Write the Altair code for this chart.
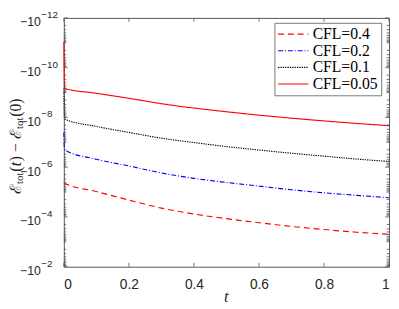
import altair as alt
import pandas as pd

# ---------------- data ----------------
t_vals = [0.0, 0.002, 0.1, 0.2, 0.3, 0.4, 0.5, 0.6, 0.7, 0.8, 0.9, 1.0]
cfl_labels = ["CFL=0.4", "CFL=0.2", "CFL=0.1", "CFL=0.05"]
# magnitudes of E_tot(t) - E_tot(0) (the quantity itself is negative)
err_cfl_0p4 = [4.2e-6, 4.4e-6, 9.5e-6, 2.1e-5, 4.4e-5, 7.6e-5, 1.17e-4, 1.7e-4, 2.4e-4, 3.2e-4, 4.1e-4, 5.0e-4]
err_cfl_0p2 = [4.0e-8, 2.0e-7, 4.8e-7, 8.9e-7, 1.7e-6, 2.8e-6, 4.1e-6, 5.75e-6, 8.1e-6, 1.07e-5, 1.35e-5, 1.7e-5]
err_cfl_0p1 = [6.9e-10, 1.15e-8, 2.3e-8, 4.0e-8, 6.8e-8, 1.02e-7, 1.48e-7, 2.04e-7, 2.75e-7, 3.6e-7, 4.7e-7, 5.9e-7]
err_cfl_0p05 = [9.3e-12, 6.8e-10, 1.07e-9, 1.7e-9, 2.8e-9, 4.2e-9, 5.9e-9, 8.1e-9, 1.07e-8, 1.38e-8, 1.74e-8, 2.14e-8]

x_ticks = [0, 0.2, 0.4, 0.6, 0.8, 1]
y_major = [1e-12, 1e-10, 1e-8, 1e-6, 1e-4, 1e-2]
y_major_sup = ["\u221212", "\u221210", "\u22128", "\u22126", "\u22124", "\u22122"]
y_minor = [k * 10.0 ** n for n in range(-12, -2) for k in range(1, 10) if not (k == 1 and n % 2 == 0)]

series = [err_cfl_0p4, err_cfl_0p2, err_cfl_0p1, err_cfl_0p05]
rows = []
for lab, vals in zip(cfl_labels, series):
    for t, v in zip(t_vals, vals):
        rows.append({"t": t, "val": v, "cfl": lab})
df = pd.DataFrame(rows)

# ---------------- layout ----------------
W, H = 332, 254
PAD = {"left": 57, "top": 7, "right": 2, "bottom": 38}
AX = "#262626"
FRAME = "#555555"

xscale = alt.Scale(domain=[0, 1], nice=False, zero=False)
yscale = alt.Scale(type="log", domain=[1e-12, 1e-2], reverse=True, nice=False)

xaxis = alt.Axis(values=x_ticks, format=".1~f", ticks=False, domain=False, grid=False,
                 labelFont="Liberation Sans", labelFontSize=14, labelColor=AX,
                 labelPadding=11, title=None)
yaxis = alt.Axis(labels=False, ticks=False, domain=False, grid=False, title=None)

def X():
    return alt.X("t:Q", scale=xscale, axis=xaxis)

def Y():
    return alt.Y("val:Q", scale=yscale, axis=yaxis)

colors = ["#ff0000", "#0000ff", "#000000", "#ff0000"]
dashes = [[6, 4], [5, 2, 1, 2], [1.3, 1.1], [1, 0]]
widths = [1.15, 1.15, 1.6, 1.15]

lines = alt.Chart(df).mark_line(interpolate="monotone").encode(
    x=X(), y=Y(),
    color=alt.Color("cfl:N", scale=alt.Scale(domain=cfl_labels, range=colors), legend=alt.Legend(title=None)),
    strokeDash=alt.StrokeDash("cfl:N", scale=alt.Scale(domain=cfl_labels, range=dashes), legend=alt.Legend(title=None)),
    strokeWidth=alt.StrokeWidth("cfl:N", scale=alt.Scale(domain=cfl_labels, range=widths), legend=None),
)

# tick marks (inward, MATLAB style)
ymaj_df = pd.DataFrame({"val": y_major, "sup": y_major_sup})
ymin_df = pd.DataFrame({"val": y_minor})
xt_df = pd.DataFrame({"t": x_ticks})

def yrule(d, x1, x2):
    return alt.Chart(d).mark_rule(color=FRAME, strokeWidth=0.8).encode(
        y=Y(), x=alt.value(x1), x2=alt.value(x2))

def xrule(y1, y2):
    return alt.Chart(xt_df).mark_rule(color=FRAME, strokeWidth=0.8).encode(
        x=X(), y=alt.value(y1), y2=alt.value(y2))

ticks = [
    yrule(ymaj_df, 0, 4), yrule(ymaj_df, W, W - 4),
    yrule(ymin_df, 0, 2.5), yrule(ymin_df, W, W - 2.5),
    xrule(H, H - 4), xrule(0, 4),
]

# y tick labels:  -10^{-n}
ylab_main = alt.Chart(ymaj_df).mark_text(
    align="right", baseline="middle", dy=4.5, font="Liberation Sans", fontSize=12.5, color=AX
).encode(y=Y(), x=alt.value(-23.5), text=alt.value("\u221210"))
ylab_sup = alt.Chart(ymaj_df).mark_text(
    align="left", baseline="middle", dy=-3, font="Liberation Sans", fontSize=10, color=AX
).encode(y=Y(), x=alt.value(-23), text="sup:N")

one = pd.DataFrame({"a": [0]})

# x axis title
xtitle = alt.Chart(one).mark_text(
    align="center", baseline="alphabetic", font="Liberation Serif", fontSize=17,
    fontStyle="italic", color=AX
).encode(x=alt.value(W / 2), y=alt.value(H + 36), text=alt.value("t"))

# y axis title: E_tot(t) - E_tot(0), rotated
pieces = [
    ("\u2130", 16, "normal", 0, 10.5),
    ("tot", 11, "normal", 2.5, 12.5),
    ("(", 16, "normal", 0, 5.8),
    ("t", 16, "italic", 0, 5.0),
    (")", 16, "normal", 0, 9.5),
    ("\u2212", 16, "normal", 0, 13.0),
    ("\u2130", 16, "normal", 0, 10.5),
    ("tot", 11, "normal", 2.5, 12.5),
    ("(0)", 16, "normal", 0, 19.0),
]
total = sum(p[4] for p in pieces)
title_layers = []
off = -total / 2
for txt, fs, style, dy, w in pieces:
    title_layers.append(
        alt.Chart(one).mark_text(
            align="left", baseline="alphabetic", angle=270, dx=off, dy=dy,
            font="Liberation Serif", fontSize=fs, fontStyle=style, color=AX
        ).encode(x=alt.value(-44), y=alt.value(H / 2 + 4), text=alt.value(txt))
    )
    off += w

chart = alt.layer(lines, *ticks, ylab_main, ylab_sup, xtitle, *title_layers).properties(
    width=W, height=H,
    autosize=alt.AutoSizeParams(type="none"),
    padding=PAD,
).configure_view(
    stroke=FRAME, strokeWidth=1
).configure_legend(
    orient="none", legendX=215, legendY=5,
    fillColor="white", strokeColor="#777777",
    padding=3, rowPadding=0, cornerRadius=0,
    symbolType="M-1,0H3", symbolSize=240, symbolStrokeWidth=1.15,
    labelFont="Liberation Serif", labelFontSize=16, labelColor="black", labelOffset=19,
    labelLimit=200,
)

chart.save("out.html", embed_options={"renderer": "svg", "actions": False})
